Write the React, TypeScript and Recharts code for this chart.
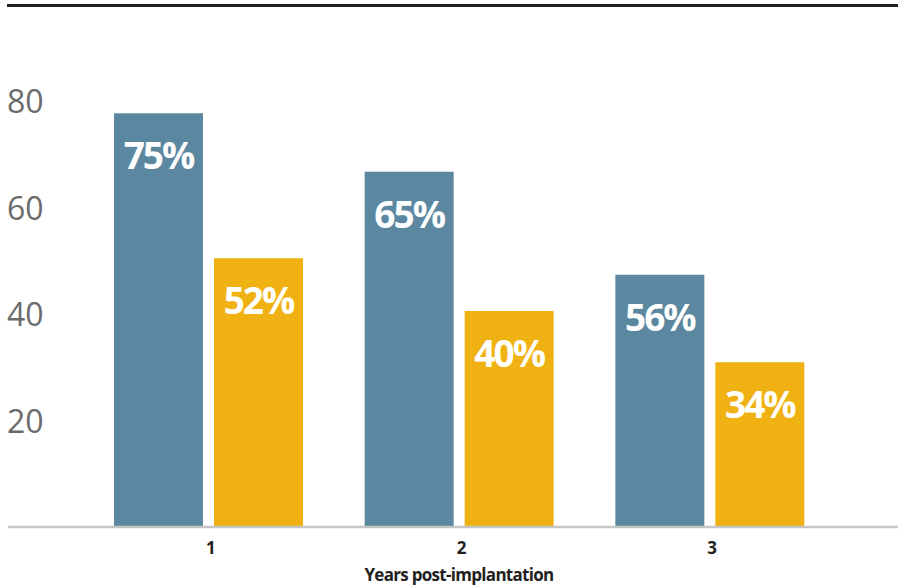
import React from 'react';
import { BarChart, Bar, XAxis, YAxis, LabelList, Label } from 'recharts';

const categories = ['1', '2', '3'];
const blueValues = [77.6, 66.6, 47.3];
const yellowValues = [50.4, 40.5, 30.9];
const blueLabels = ['75%', '65%', '56%'];
const yellowLabels = ['52%', '40%', '34%'];
const yTicks = [20, 40, 60, 80];
const axisTitle = 'Years post-implantation';

const data = categories.map((c, i) => ({
  year: c,
  blue: blueValues[i],
  yellow: yellowValues[i],
  blueLabel: blueLabels[i],
  yellowLabel: yellowLabels[i],
}));

const FONT = '"Open Sans", sans-serif';
const BLUE = '#5b87a0';
const YELLOW = '#f0b213';
const PAD_L = 75;
const PAD_R = 63;

const YTick = (props: any) => {
  const { y, payload } = props;
  return (
    <text x={7} y={y + 1.4} dy="0.355em" textAnchor="start" fill="#6b6b6b" fontSize={32} fontFamily={FONT}>
      {payload.value}
    </text>
  );
};

const XTick = (props: any) => {
  const { x, y, payload } = props;
  return (
    <text x={x + 2.5} y={y} dy="0.71em" textAnchor="middle" fill="#231f20" fontSize={17} fontWeight={700} fontFamily={FONT}>
      {payload.value}
    </text>
  );
};

const makeBarLabel = (labels: string[]) => (props: any) => {
  const { x, y, width, index } = props;
  return (
    <text
      x={x + width / 2}
      y={y + 56}
      textAnchor="middle"
      fill="#ffffff"
      fontSize={37}
      fontWeight={700}
      fontFamily={FONT}
      letterSpacing={-2}
    >
      {labels[index]}
    </text>
  );
};

const AxisTitle = (props: any) => {
  const { viewBox } = props;
  const cx = viewBox.x + PAD_L + (viewBox.width - PAD_L - PAD_R) / 2;
  return (
    <text
      x={cx}
      y={581}
      textAnchor="middle"
      fill="#231f20"
      fontSize={17}
      fontWeight={700}
      fontFamily={FONT}
      letterSpacing={-0.7}
    >
      {axisTitle}
    </text>
  );
};

export default function App() {
  return (
    <div style={{ position: 'absolute', left: 0, top: 0, width: 898, height: 587, background: '#fff' }}>
      <div style={{ position: 'absolute', left: 7, top: 4, width: 891, height: 3, background: '#231f20' }} />
      <BarChart
        width={898}
        height={587}
        data={data}
        margin={{ top: 47, right: 0, left: 6, bottom: 0 }}
        barSize={89}
        barGap={11}
      >
        <YAxis
          width={2}
          domain={[0, 90]}
          ticks={yTicks}
          axisLine={false}
          tickLine={false}
          tick={(p: any) => <YTick {...p} />}
          interval={0}
        />
        <XAxis
          dataKey="year"
          height={60}
          padding={{ left: PAD_L, right: PAD_R }}
          axisLine={{ stroke: '#c6c6c6', strokeWidth: 2.5 }}
          tickLine={false}
          tickSize={0}
          tickMargin={15}
          tick={(p: any) => <XTick {...p} />}
        >
          <Label content={<AxisTitle />} />
        </XAxis>
        <Bar dataKey="blue" fill={BLUE} isAnimationActive={false}>
          <LabelList dataKey="blueLabel" content={makeBarLabel(blueLabels)} />
        </Bar>
        <Bar dataKey="yellow" fill={YELLOW} isAnimationActive={false}>
          <LabelList dataKey="yellowLabel" content={makeBarLabel(yellowLabels)} />
        </Bar>
      </BarChart>
    </div>
  );
}
